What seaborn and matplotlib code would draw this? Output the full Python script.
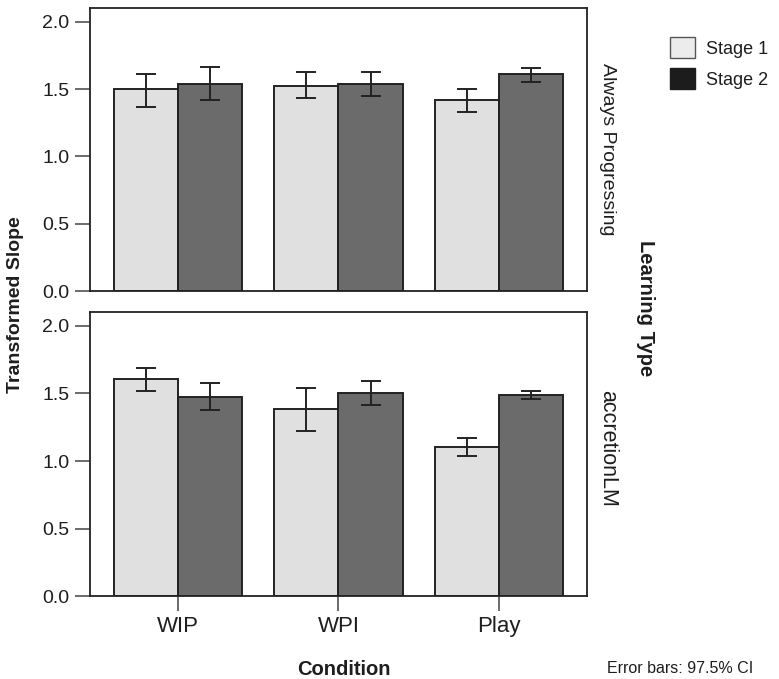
import matplotlib
matplotlib.use("Agg")
import matplotlib.pyplot as plt
import seaborn as sns
import pandas as pd
import numpy as np
from matplotlib.patches import Patch

conditions = ["WIP", "WPI", "Play"]
stages = ["Stage 1", "Stage 2"]
learning_types = ["Always Progressing", "accretionLM"]

# Always Progressing
ap_stage1 = [1.50, 1.525, 1.42]
ap_stage2 = [1.535, 1.535, 1.61]
ap_stage1_lo = [1.37, 1.435, 1.33]
ap_stage1_hi = [1.61, 1.63, 1.50]
ap_stage2_lo = [1.42, 1.45, 1.555]
ap_stage2_hi = [1.66, 1.63, 1.655]

# accretionLM
lm_stage1 = [1.605, 1.385, 1.105]
lm_stage2 = [1.47, 1.50, 1.485]
lm_stage1_lo = [1.52, 1.22, 1.04]
lm_stage1_hi = [1.69, 1.54, 1.17]
lm_stage2_lo = [1.38, 1.415, 1.46]
lm_stage2_hi = [1.58, 1.59, 1.52]

sns.set_theme(style="white")
plt.rcParams['font.family'] = ['Liberation Sans', 'DejaVu Sans']

colors = {"Stage 1": "#e0e0e0", "Stage 2": "#6b6b6b"}
edge = "#222222"
txt = "#1e1e1e"

fig = plt.figure(figsize=(7.79, 6.79), dpi=100)
ax_top = fig.add_axes([0.1155, 0.571, 0.638, 0.417])
ax_bot = fig.add_axes([0.1155, 0.122, 0.638, 0.418])

panels = [
    (ax_top, ap_stage1, ap_stage2, ap_stage1_lo, ap_stage1_hi, ap_stage2_lo, ap_stage2_hi),
    (ax_bot, lm_stage1, lm_stage2, lm_stage1_lo, lm_stage1_hi, lm_stage2_lo, lm_stage2_hi),
]
label_sizes = [14, 15.5]

for i, (ax, s1, s2, s1lo, s1hi, s2lo, s2hi) in enumerate(panels):
    df = pd.DataFrame({
        "Condition": conditions * 2,
        "Stage": ["Stage 1"] * 3 + ["Stage 2"] * 3,
        "Slope": s1 + s2,
        "lo": s1lo + s2lo,
        "hi": s1hi + s2hi,
    })
    sns.barplot(data=df, x="Condition", y="Slope", hue="Stage", order=conditions,
                hue_order=stages, palette=colors, errorbar=None, width=0.8,
                edgecolor=edge, linewidth=1.4, saturation=1, ax=ax, legend=False)
    for cont, stage in zip(ax.containers, stages):
        sub = df[df["Stage"] == stage].set_index("Condition").loc[conditions]
        xs = [p.get_x() + p.get_width() / 2 for p in cont.patches]
        ys = sub["Slope"].values
        yerr = np.vstack([ys - sub["lo"].values, sub["hi"].values - ys])
        ax.errorbar(xs, ys, yerr=yerr, fmt="none", ecolor=edge, elinewidth=1.4,
                    capsize=7, capthick=1.4, zorder=5)
    ax.set_xlim(-0.55, 2.55)
    ax.set_ylim(0, 2.1)
    ax.set_yticks([0.0, 0.5, 1.0, 1.5, 2.0])
    ax.set_yticklabels(["0.0", "0.5", "1.0", "1.5", "2.0"])
    ax.set_xlabel("")
    ax.set_ylabel("")
    for sp in ax.spines.values():
        sp.set_visible(True)
        sp.set_color(edge)
        sp.set_linewidth(1.3)
    ax.tick_params(axis="y", direction="out", length=11, width=1.1, color="#444444",
                   labelsize=14, pad=4, left=True, labelcolor=txt)
    if i == 0:
        ax.tick_params(axis="x", bottom=False, labelbottom=False)
    else:
        ax.tick_params(axis="x", direction="out", length=11, width=1.1, color="#444444",
                       labelsize=16, pad=3, bottom=True, labelcolor=txt)
    ax.text(1.042, 0.5 if i == 0 else 0.52, learning_types[i], transform=ax.transAxes,
            rotation=-90, ha="center", va="center", fontsize=label_sizes[i], color=txt)

fig.text(0.02, 0.551, "Transformed Slope", rotation=90, ha="center", va="center",
         fontsize=14, fontweight="bold", color=txt)
fig.text(0.828, 0.546, "Learning Type", rotation=-90, ha="center", va="center",
         fontsize=14.5, fontweight="bold", color=txt)
fig.text(0.441, 0.014, "Condition", ha="center", va="center",
         fontsize=14.5, fontweight="bold", color=txt)
fig.text(0.779, 0.016, "Error bars: 97.5% CI", ha="left", va="center",
         fontsize=11.5, color=txt)

handles = [Patch(facecolor="#ececec", edgecolor="#555555", linewidth=1.0, label="Stage 1"),
           Patch(facecolor="#1c1c1c", edgecolor="#1c1c1c", linewidth=1.0, label="Stage 2")]
fig.legend(handles=handles, loc="upper left", bbox_to_anchor=(0.860, 0.945),
           frameon=False, fontsize=13, handlelength=1.4, handleheight=1.35,
           handletextpad=0.6, labelspacing=0.6, borderaxespad=0, borderpad=0,
           labelcolor=txt)

fig.savefig("out.png", dpi=100)
